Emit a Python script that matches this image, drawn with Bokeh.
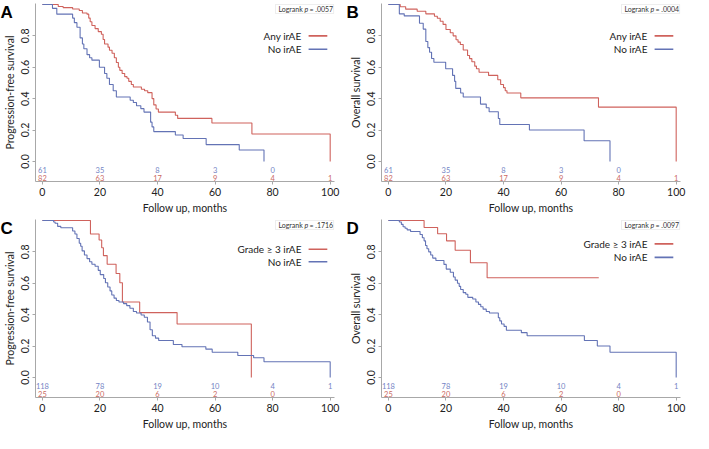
from bokeh.plotting import figure
from bokeh.layouts import gridplot
from bokeh.models import Label, BoxAnnotation, Arrow, FixedTicker, Range1d
from bokeh.core.properties import value
from bokeh.embed import file_html
from bokeh.resources import INLINE

# ---------------- data ----------------
# Panel A: progression-free survival, any irAE vs no irAE
a_any_t = [0, 5.5, 7.2, 10.5, 12.8, 13.9, 15.5, 16.1, 16.6, 17.2, 18.3, 19.4, 20.5, 21.1, 21.6,
           22.8, 23.3, 24.2, 25.0, 25.7, 26.4, 26.9, 27.7, 28.6, 29.4, 30.0, 30.9, 31.6, 34.4,
           35.5, 36.6, 38.1, 38.7, 39.5, 40.3, 46.2, 47.0, 58.9, 72.8, 100]
a_any_s = [1.0, 0.987, 0.98, 0.971, 0.961, 0.945, 0.938, 0.913, 0.89, 0.866, 0.846, 0.827, 0.81,
           0.777, 0.748, 0.728, 0.708, 0.689, 0.66, 0.63, 0.60, 0.58, 0.56, 0.54, 0.53, 0.51,
           0.49, 0.474, 0.46, 0.45, 0.438, 0.40, 0.36, 0.334, 0.314, 0.294, 0.274, 0.245,
           0.175, 0.0]
a_no_t = [0, 3.5, 5.0, 10.5, 11.1, 12.0, 13.1, 13.9, 14.4, 15.5, 16.4, 17.2, 19.8, 21.6, 22.4,
          23.3, 24.6, 25.7, 30.5, 31.6, 32.7, 34.2, 35.3, 37.6, 38.1, 38.7, 46.2, 48.9, 56.9,
          68.4, 77.0]
a_no_s = [1.0, 0.975, 0.938, 0.913, 0.884, 0.855, 0.787, 0.748, 0.718, 0.68, 0.66, 0.645, 0.60,
          0.56, 0.53, 0.49, 0.45, 0.41, 0.39, 0.375, 0.355, 0.336, 0.314, 0.25, 0.22, 0.19,
          0.168, 0.146, 0.107, 0.073, 0.0]

# Panel B: overall survival, any irAE vs no irAE
b_any_t = [0, 4.1, 6.0, 10.0, 13.0, 16.0, 17.0, 18.0, 19.0, 20.0, 21.5, 22.5, 23.5, 24.2, 25.0,
           26.0, 27.5, 28.2, 29.0, 30.0, 30.6, 31.5, 34.8, 38.0, 39.0, 40.0, 40.6, 41.2, 46.0,
           73.0, 100]
b_any_s = [1.0, 0.985, 0.97, 0.957, 0.94, 0.925, 0.912, 0.893, 0.873, 0.84, 0.82, 0.80, 0.775,
           0.76, 0.745, 0.71, 0.675, 0.655, 0.635, 0.607, 0.59, 0.568, 0.548, 0.52, 0.49, 0.47,
           0.45, 0.436, 0.405, 0.346, 0.0]
b_no_t = [0, 3.8, 5.5, 10.8, 12.1, 13.0, 13.7, 14.3, 15.0, 15.8, 19.9, 22.3, 23.0, 23.4, 25.1,
          26.0, 32.0, 34.0, 35.0, 38.2, 38.7, 49.0, 68.0, 77.0]
b_no_s = [1.0, 0.94, 0.927, 0.88, 0.843, 0.764, 0.725, 0.695, 0.656, 0.632, 0.59, 0.548, 0.51,
          0.465, 0.436, 0.41, 0.365, 0.342, 0.316, 0.273, 0.235, 0.20, 0.132, 0.0]

# Panel C: progression-free survival, grade >= 3 irAE vs no irAE
c_g3_t = [0, 16.7, 19.7, 20.6, 21.2, 22.5, 25.6, 26.9, 27.8, 33.8, 46.8, 72.6]
c_g3_s = [1.0, 0.914, 0.875, 0.826, 0.776, 0.721, 0.662, 0.603, 0.48, 0.413, 0.34, 0.0]
c_no_t = [0, 3.9, 4.4, 5.3, 6.4, 10.5, 11.3, 12.0, 12.8, 13.3, 13.8, 14.6, 15.5, 16.4, 17.2,
          18.3, 19.4, 20.1, 21.3, 21.9, 22.7, 23.5, 24.1, 24.9, 25.7, 26.6, 28.2, 29.3, 30.4,
          31.6, 32.7, 34.3, 35.4, 36.5, 37.4, 38.2, 39.3, 40.4, 45.5, 48.5, 56.8, 59.0, 67.9,
          73.4, 77.0, 100]
c_no_s = [1.0, 0.99, 0.982, 0.962, 0.953, 0.933, 0.914, 0.885, 0.855, 0.836, 0.806, 0.78,
          0.757, 0.737, 0.721, 0.708, 0.682, 0.655, 0.63, 0.603, 0.576, 0.551, 0.525, 0.505,
          0.49, 0.48, 0.47, 0.457, 0.441, 0.42, 0.41, 0.398, 0.383, 0.353, 0.304, 0.265, 0.25,
          0.235, 0.21, 0.195, 0.18, 0.16, 0.14, 0.125, 0.10, 0.0]

# Panel D: overall survival, grade >= 3 irAE vs no irAE
d_g3_t = [0, 12.4, 17.1, 20.2, 23.2, 28.5, 34.3, 73.1]
d_g3_s = [1.0, 0.955, 0.915, 0.87, 0.81, 0.73, 0.635, 0.635]
d_no_t = [0, 3.8, 4.5, 5.1, 5.8, 6.5, 7.7, 11.0, 11.8, 12.4, 12.9, 13.4, 14.0, 14.7, 15.4, 16.5,
          19.3, 20.1, 21.5, 22.6, 23.2, 24.0, 24.6, 25.1, 26.0, 26.9, 27.6, 29.3, 30.4, 31.3,
          32.1, 32.9, 34.0, 35.1, 38.2, 38.7, 39.3, 40.2, 41.0, 46.2, 48.2, 68.1, 72.6, 77.0,
          100]
d_no_s = [1.0, 0.99, 0.975, 0.96, 0.95, 0.94, 0.93, 0.91, 0.89, 0.87, 0.84, 0.82, 0.80, 0.78,
          0.76, 0.745, 0.72, 0.69, 0.67, 0.64, 0.62, 0.60, 0.58, 0.56, 0.54, 0.53, 0.51, 0.50,
          0.48, 0.465, 0.45, 0.435, 0.42, 0.41, 0.38, 0.36, 0.34, 0.325, 0.30, 0.285, 0.265,
          0.235, 0.20, 0.16, 0.0]

# numbers at risk
risk_months = [0, 20, 40, 60, 80, 100]
ab_risk_no = [61, 35, 8, 3, 0]
ab_risk_any = [82, 63, 17, 9, 4, 1]
cd_risk_no = [118, 78, 19, 10, 4, 1]
cd_risk_g3 = [25, 20, 6, 2, 0]

x_ticks = [0, 20, 40, 60, 80, 100]
y_ticks = [0.0, 0.2, 0.4, 0.6, 0.8]

RED = "#cf625c"
BLUE = "#6373b5"
RED_TXT = "#cb6a5f"
BLUE_TXT = "#7383c4"
FONT = "Lato"


def panel(letter, ylabel, s1, s2, pval, risk_a, risk_b, leg_y):
    p = figure(width=346, height=216, output_backend="svg", toolbar_location=None,
               x_range=Range1d(-2.4, 101.5), y_range=Range1d(-0.128, 1.006),
               min_border_left=31, min_border_right=3, min_border_top=3, min_border_bottom=33)
    p.outline_line_color = None
    p.grid.visible = False
    p.background_fill_color = "white"

    for ax in (p.xaxis[0], p.yaxis[0]):
        ax.axis_line_color = "#a8a8a8"
        ax.major_tick_line_color = "#a8a8a8"
        ax.minor_tick_line_color = None
        ax.major_tick_in = 0
        ax.major_tick_out = 3
        ax.major_label_text_font = FONT
        ax.major_label_text_font_size = "10.5px"
        ax.major_label_text_color = "#222222"
        ax.axis_label_text_font = FONT
        ax.axis_label_text_font_size = "10.5px"
        ax.axis_label_text_font_style = "normal"
        ax.axis_label_text_color = "#222222"
        ax.major_label_standoff = 3
        ax.axis_label_standoff = 3
    p.xaxis.ticker = FixedTicker(ticks=x_ticks)
    p.yaxis.ticker = FixedTicker(ticks=y_ticks)
    p.yaxis.major_label_orientation = "vertical"
    p.yaxis.major_label_overrides = {t: "%.1f" % t for t in y_ticks}
    p.xaxis.axis_label = "Follow up, months"
    p.yaxis.axis_label = ylabel

    # survival curves
    for (t, s, lab, col) in (s1, s2):
        p.step(t, s, mode="after", line_color=col, line_width=1.1)

    # legend (label left, line sample right)
    for i, (t, s, lab, col) in enumerate((s1, s2)):
        y = leg_y[i]
        p.add_layout(Label(x=90.0, y=y, text=lab, text_align="right", text_baseline="middle",
                           text_font=FONT, text_font_size="10px", text_color="#222222"))
        p.add_layout(Arrow(end=None, start=None, x_start=92.5, x_end=99.0, y_start=y, y_end=y,
                           line_color=col, line_width=1.6))

    # logrank box
    p.add_layout(BoxAnnotation(left=81.0, right=101.2, top=1.0, bottom=0.942,
                               fill_color="white", fill_alpha=1.0,
                               line_color="#c4c4c4", line_width=1))
    common = dict(y=0.971, text_baseline="middle", text_font=FONT,
                  text_font_size="7px", text_color="#333333")
    p.add_layout(Label(x=82.0, text="Logrank", **common))
    p.add_layout(Label(x=82.0, x_offset=26, text="p", text_font_style="italic", **common))
    p.add_layout(Label(x=82.0, x_offset=31, text="= " + pval, **common))

    # numbers at risk
    for vals, yy, col in ((risk_a, -0.055, BLUE_TXT), (risk_b, -0.105, RED_TXT)):
        n = len(vals)
        p.text(x=risk_months[:n], y=[yy] * n, text=[str(v) for v in vals],
               text_align="center", text_baseline="middle", text_font=value(FONT),
               text_font_size="7.5px", text_color=col)

    # panel letter: a label kept in a side panel (so it is not clipped to the frame),
    # drawn at the canvas' top-left corner
    p.add_layout(Label(x=0, y=2, x_units="canvas", y_units="canvas", text=letter,
                       text_align="left", text_baseline="top",
                       text_font="Liberation Sans", text_font_style="bold",
                       text_font_size="17px", text_color="black"), "right")
    return p


pa = panel("A", "Progression-free survival",
           (a_any_t, a_any_s, "Any irAE", RED), (a_no_t, a_no_s, "No irAE", BLUE),
           ".0057", ab_risk_no, ab_risk_any, (0.80, 0.715))
pb = panel("B", "Overall survival",
           (b_any_t, b_any_s, "Any irAE", RED), (b_no_t, b_no_s, "No irAE", BLUE),
           ".0004", ab_risk_no, ab_risk_any, (0.80, 0.715))
pc = panel("C", "Progression-free survival",
           (c_g3_t, c_g3_s, "Grade \u2265 3 irAE", RED), (c_no_t, c_no_s, "No irAE", BLUE),
           ".1716", cd_risk_no, cd_risk_g3, (0.816, 0.737))
pd_ = panel("D", "Overall survival",
            (d_g3_t, d_g3_s, "Grade \u2265 3 irAE", RED), (d_no_t, d_no_s, "No irAE", BLUE),
            ".0097", cd_risk_no, cd_risk_g3, (0.851, 0.765))

grid = gridplot([[pa, pb], [pc, pd_]], toolbar_location=None)

open("out.html", "w").write(file_html(grid, INLINE))
